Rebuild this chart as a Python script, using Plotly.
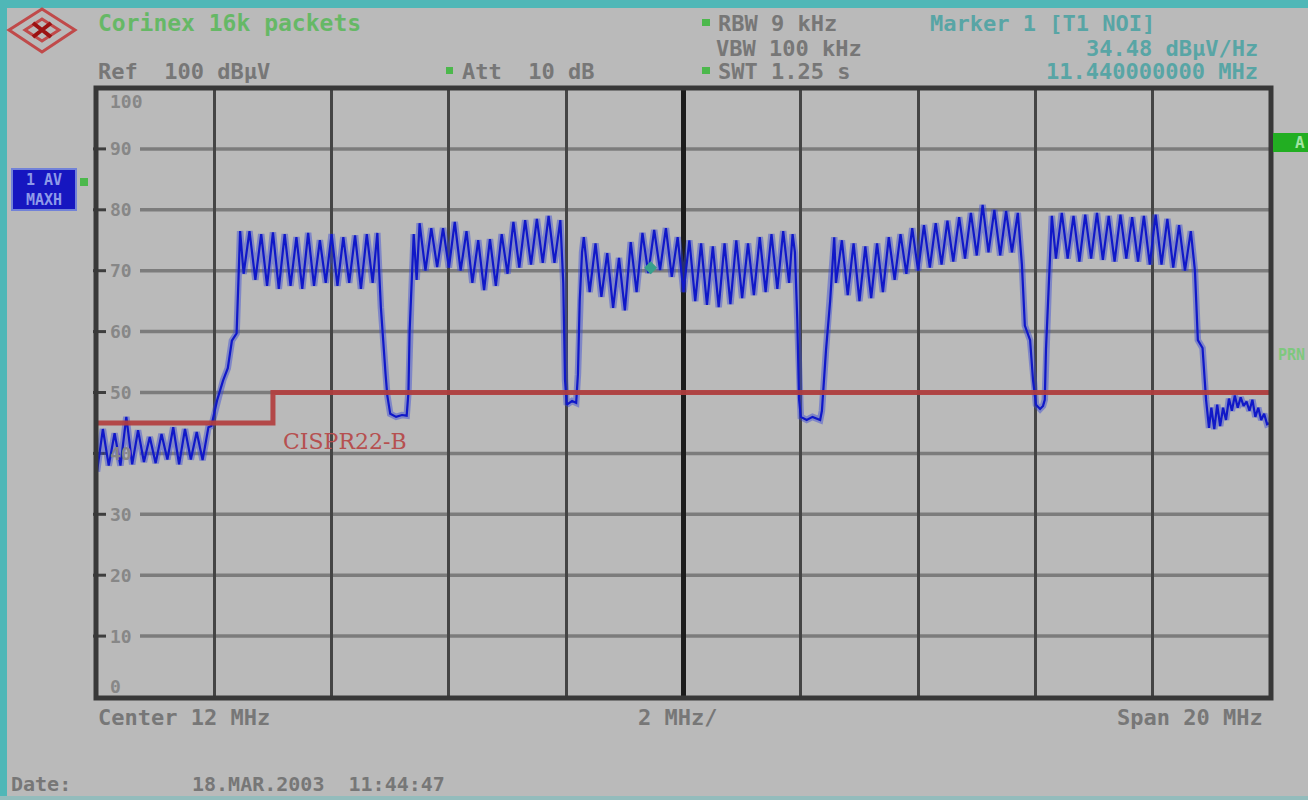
import plotly.graph_objects as go

# ---------------- data ----------------
# trace (MAXH detector) read from the screen, in MHz / dBuV
f1 = [2.0, 2.1, 2.2, 2.3, 2.4, 2.5, 2.6, 2.7, 2.8, 2.9, 3.0, 3.1, 3.2, 3.3, 3.4, 3.5, 3.6, 3.7, 3.8, 3.9,
      3.95, 4.05, 4.15, 4.23, 4.3, 4.38, 4.41, 4.44]
v1 = [37.0, 44.0, 38.0, 43.3, 38.0, 46.0, 38.2, 43.8, 38.6, 42.7, 38.4, 43.2, 39.0, 44.3, 38.2, 44.0, 39.0, 43.5, 38.9, 44.3,
      44.5, 48.8, 52.0, 54.0, 58.5, 59.7, 68.0, 76.5]

f2 = [4.5, 4.6, 4.7, 4.8, 4.9, 5.0, 5.1, 5.2, 5.3, 5.4, 5.5, 5.6, 5.7, 5.8, 5.9, 6.0, 6.1, 6.2, 6.3, 6.4, 6.5, 6.6, 6.7,
      6.78, 6.84, 6.88, 6.92, 6.95, 7.0, 7.1, 7.2, 7.28, 7.31, 7.33, 7.36, 7.4, 7.45]
v2 = [69.5, 76.5, 68.5, 76.0, 67.5, 76.3, 67.0, 76.0, 67.5, 75.5, 67.0, 76.2, 67.5, 75.0, 68.0, 76.0, 67.5, 75.5, 68.0, 75.8, 67.0, 76.0, 68.0,
      76.2, 64.0, 58.0, 53.0, 49.5, 46.5, 46.0, 46.3, 46.2, 50.0, 60.0, 66.0, 76.0, 68.5]

f3 = [7.5, 7.6, 7.7, 7.8, 7.9, 8.0, 8.1, 8.2, 8.3, 8.4, 8.5, 8.6, 8.7, 8.8, 8.9, 9.0, 9.1, 9.2, 9.3, 9.4, 9.5, 9.6, 9.7, 9.8, 9.9,
      9.95, 9.98, 10.01, 10.1, 10.17, 10.2, 10.23, 10.27]
v3 = [77.8, 70.0, 77.0, 70.6, 77.0, 70.5, 78.0, 70.0, 76.5, 68.0, 75.0, 66.8, 75.2, 67.5, 76.0, 69.5, 78.0, 70.5, 78.3, 71.0, 78.5, 71.3, 79.0, 71.3, 78.3,
      68.0, 52.0, 48.0, 48.6, 48.3, 53.0, 65.0, 73.0]

f4 = [10.3, 10.4, 10.5, 10.6, 10.7, 10.8, 10.9, 11.0, 11.1, 11.2, 11.3, 11.4, 11.5, 11.6, 11.7, 11.8, 11.9, 12.0,
      12.1, 12.2, 12.3, 12.4, 12.5, 12.6, 12.7, 12.8, 12.9, 13.0, 13.1, 13.2, 13.3, 13.4, 13.5, 13.6, 13.7, 13.8,
      13.86, 13.9, 13.94, 13.97, 14.0, 14.1, 14.2, 14.33, 14.36, 14.43, 14.5, 14.57]
v4 = [75.5, 66.5, 74.5, 65.7, 72.9, 63.9, 72.1, 63.5, 74.7, 66.5, 76.2, 69.6, 76.7, 70.1, 77.0, 69.0, 75.5, 66.5,
      75.0, 65.0, 74.5, 64.4, 74.0, 64.0, 74.5, 64.5, 75.0, 65.5, 74.5, 66.0, 75.5, 66.5, 76.0, 67.0, 76.5, 68.0,
      76.0, 73.0, 62.0, 49.0, 46.0, 45.5, 46.0, 45.5, 47.0, 57.0, 65.0, 75.5]

f5 = [14.6, 14.7, 14.8, 14.9, 15.0, 15.1, 15.2, 15.3, 15.4, 15.5, 15.6, 15.7, 15.8, 15.9, 16.0, 16.1, 16.2, 16.3,
      16.4, 16.5, 16.6, 16.7, 16.8, 16.9, 17.0, 17.1, 17.2, 17.3, 17.4, 17.5, 17.6, 17.7,
      17.77, 17.82, 17.91, 17.96, 18.01, 18.08, 18.13, 18.16, 18.18, 18.23, 18.28]
v5 = [68.0, 75.0, 66.0, 74.5, 65.0, 74.0, 65.5, 74.5, 66.5, 75.5, 68.5, 76.0, 69.5, 77.0, 70.0, 77.5, 70.5, 77.8,
      71.0, 78.2, 71.5, 78.8, 72.0, 79.5, 72.5, 80.8, 73.0, 80.0, 72.5, 79.8, 73.0, 79.5,
      71.0, 61.0, 58.6, 52.0, 48.0, 47.3, 47.8, 48.8, 57.0, 68.5, 79.0]

f6 = [18.35, 18.45, 18.55, 18.65, 18.75, 18.85, 18.95, 19.05, 19.15, 19.25, 19.35, 19.45, 19.55, 19.65, 19.75,
      19.85, 19.95, 20.05, 20.15, 20.25, 20.35, 20.45, 20.55, 20.65,
      20.72, 20.77, 20.85, 20.91, 20.96]
v6 = [72.0, 79.5, 72.0, 79.0, 71.5, 79.2, 72.0, 79.5, 71.8, 79.0, 71.5, 79.2, 72.0, 78.8, 71.5,
      79.0, 71.0, 79.2, 71.0, 78.5, 70.5, 77.5, 70.0, 76.5,
      70.0, 58.6, 57.3, 48.8, 44.2]

f7 = [21.0, 21.05, 21.1, 21.15, 21.2, 21.25, 21.3, 21.35, 21.4, 21.45, 21.5, 21.55, 21.6, 21.65, 21.7, 21.75,
      21.8, 21.85, 21.9, 21.95, 22.0]
v7 = [47.5, 44.0, 48.0, 44.5, 47.5, 45.5, 49.0, 47.0, 49.5, 47.5, 49.2, 47.8, 48.5, 47.0, 48.8, 46.0,
      47.5, 45.5, 46.5, 44.8, 45.0]

# CISPR22 class B limit line
limit_freq = [2.0, 5.0, 5.0, 22.0]
limit_level = [45.0, 45.0, 50.0, 50.0]

# marker 1
marker_freq = [11.44]
marker_level = [70.5]

# axes
freq_range = [2, 22]
level_range = [0, 100]
grid_freqs = [4, 6, 8, 10, 14, 16, 18, 20]
center_freq = 12
grid_levels = [10, 20, 30, 40, 50, 60, 70, 80, 90]
ytick_levels = [100, 90, 80, 70, 60, 50, 40, 30, 20, 10, 0]
ytick_labels = ["100", "90", "80", "70", "60", "50", "40", "30", "20", "10", "0"]

segs_f = [f1, f2, f3, f4, f5, f6, f7]
segs_v = [v1, v2, v3, v4, v5, v6, v7]
for a, b in zip(segs_f, segs_v):
    assert len(a) == len(b), (len(a), len(b))
freq = [x for s in segs_f for x in s]
level = [y for s in segs_v for y in s]

# ---------------- layout helpers ----------------
W, H = 1308, 800
BG = "#bababa"
GRAY_TXT = "#777777"
GREEN_TXT = "#66b866"
TEAL_TXT = "#58a5a5"
MONO = "DejaVu Sans Mono"


def fx(px):
    return px / W


def fy(py):
    return 1 - py / H


PL, PR, PT, PB = 97, 1270, 88, 697

fig = go.Figure()

# trace: soft halo + dark core
fig.add_trace(go.Scatter(x=freq, y=level, mode="lines",
                         line=dict(color="rgba(55,72,215,0.45)", width=6.5), hoverinfo="skip"))
fig.add_trace(go.Scatter(x=freq, y=level, mode="lines",
                         line=dict(color="#1018c8", width=2.2)))
# limit line
fig.add_trace(go.Scatter(x=limit_freq, y=limit_level, mode="lines",
                         line=dict(color="rgba(178,62,62,0.92)", width=5)))
# marker
fig.add_trace(go.Scatter(x=marker_freq, y=marker_level, mode="markers",
                         marker=dict(symbol="diamond", size=10, color="#36a08c")))

shapes = []
# horizontal grid (starts right of the level labels)
for lv in grid_levels:
    shapes.append(dict(type="line", xref="paper", yref="y", x0=fx(140), x1=fx(PR), y0=lv, y1=lv,
                       line=dict(color="#7c7c7c", width=3.5), layer="below"))
    shapes.append(dict(type="line", xref="paper", yref="y", x0=fx(93), x1=fx(106), y0=lv, y1=lv,
                       line=dict(color="#3e3e3e", width=3), layer="below"))
# centre line
shapes.append(dict(type="line", xref="x", yref="paper", x0=center_freq, x1=center_freq,
                   y0=fy(PB), y1=fy(PT), line=dict(color="#1c1c1c", width=5), layer="below"))
# frame
shapes.append(dict(type="rect", xref="paper", yref="paper", x0=fx(PL - 1), x1=fx(PR + 1),
                   y0=fy(PB + 1), y1=fy(PT), line=dict(color="#383838", width=5), layer="above"))

# teal edges
teal = "#4fb7b7"
shapes.append(dict(type="rect", xref="paper", yref="paper", x0=0, x1=fx(7), y0=0, y1=1,
                   fillcolor=teal, line=dict(width=0), layer="above"))
shapes.append(dict(type="rect", xref="paper", yref="paper", x0=0, x1=1, y0=fy(8), y1=1,
                   fillcolor=teal, line=dict(width=0), layer="above"))
shapes.append(dict(type="rect", xref="paper", yref="paper", x0=0, x1=1, y0=0, y1=fy(796),
                   fillcolor="#93bcbc", line=dict(width=0), layer="above"))

# logo (R&S style diamond knot)
def path(pts, close=True):
    s = "M " + " L ".join(f"{fx(a):.5f},{fy(b):.5f}" for a, b in pts)
    return s + (" Z" if close else "")

shapes.append(dict(type="path", xref="paper", yref="paper",
                   path=path([(9, 30), (42, 9), (75, 30), (42, 52)]),
                   line=dict(color="#c04a4a", width=3)))
shapes.append(dict(type="path", xref="paper", yref="paper",
                   path=path([(25, 30), (42, 19), (59, 30), (42, 41)]),
                   line=dict(color="#c04a4a", width=3)))
shapes.append(dict(type="path", xref="paper", yref="paper",
                   path=path([(33, 23), (51, 37)], close=False) + " " + path([(33, 37), (51, 23)], close=False),
                   line=dict(color="#9c1212", width=4)))

# trace info box (left), green bullets
shapes.append(dict(type="rect", xref="paper", yref="paper", x0=fx(12), x1=fx(76), y0=fy(210), y1=fy(169),
                   fillcolor="#1616c0", line=dict(color="#7282d8", width=2)))
for (x0, y0, x1, y1) in [(80, 178, 88, 186), (702, 19, 710, 26), (702, 67, 710, 74), (446, 67, 453, 74)]:
    shapes.append(dict(type="rect", xref="paper", yref="paper", x0=fx(x0), x1=fx(x1), y0=fy(y1), y1=fy(y0),
                       fillcolor="#4cb84c", line=dict(width=0)))
# right "A" box
shapes.append(dict(type="rect", xref="paper", yref="paper", x0=fx(1273), x1=1, y0=fy(152), y1=fy(133),
                   fillcolor="#22ae22", line=dict(width=0)))

NB = "\u00a0"


def txt(s, x, y, color, size=22, anchor="left", family=MONO, bold=True):
    if bold:
        s = "<b>" + s + "</b>"
    return dict(text=s, x=fx(x), y=fy(y), xref="paper", yref="paper", xanchor=anchor, yanchor="middle",
                showarrow=False, font=dict(family=family, size=size, color=color))


ann = [
    txt("Corinex 16k packets", 96, 23, GREEN_TXT, size=23),
    txt("Ref" + NB * 2 + "100 dBµV", 96, 71, GRAY_TXT),
    txt("Att" + NB * 2 + "10 dB", 460, 71, GRAY_TXT),
    txt("RBW 9 kHz", 716, 23, GRAY_TXT),
    txt("VBW 100 kHz", 714, 48, GRAY_TXT),
    txt("SWT 1.25 s", 716, 71, GRAY_TXT),
    txt("Marker 1 [T1 NOI]", 928, 23, TEAL_TXT),
    txt("34.48 dBµV/Hz", 1260, 48, TEAL_TXT, anchor="right"),
    txt("11.440000000 MHz", 1260, 71, TEAL_TXT, anchor="right"),
    txt("Center 12 MHz", 96, 717, GRAY_TXT),
    txt("2 MHz/", 636, 717, GRAY_TXT),
    txt("Span 20 MHz", 1265, 717, GRAY_TXT, anchor="right"),
    txt("Date:", 9, 784, GRAY_TXT, size=20),
    txt("18.MAR.2003" + NB * 2 + "11:44:47", 190, 784, GRAY_TXT, size=20),
    txt("1 AV<br>MAXH", 44, 190, "#8e9ae8", size=15, anchor="center"),
    txt("A", 1300, 143, "#a2e4a2", size=16, anchor="center"),
    txt("PRN", 1276, 355, "#7ec87e", size=15),
    dict(text="CISPR22-B", x=fx(345), y=fy(441), xref="paper", yref="paper", xanchor="center",
         yanchor="middle", showarrow=False,
         font=dict(family="DejaVu Serif", size=22, color="#b65050")),
]
for lv, lab in zip(ytick_levels, ytick_labels):
    shift = -14 if lv == 100 else (11 if lv == 0 else 0)
    ann.append(dict(text="<b>" + lab + "</b>", x=fx(108), y=lv, xref="paper", yref="y", xanchor="left",
                    yanchor="middle", yshift=shift, showarrow=False,
                    font=dict(family=MONO, size=18, color="#878787")))

fig.update_layout(
    width=W, height=H, margin=dict(l=0, r=0, t=0, b=0, pad=0),
    paper_bgcolor=BG, plot_bgcolor=BG, showlegend=False,
    xaxis=dict(domain=[fx(PL), fx(PR)], range=freq_range, tickmode="array", tickvals=grid_freqs,
               showticklabels=False, showgrid=True, gridcolor="#454545", gridwidth=3,
               zeroline=False, showline=False, ticks=""),
    yaxis=dict(domain=[fy(PB), fy(PT)], range=level_range, showticklabels=False, showgrid=False,
               zeroline=False, showline=False, ticks=""),
    shapes=shapes, annotations=ann,
)

fig.write_html("out.html", config={"displayModeBar": False},
               post_script="document.body.style.margin='0';document.body.style.overflow='hidden';")
